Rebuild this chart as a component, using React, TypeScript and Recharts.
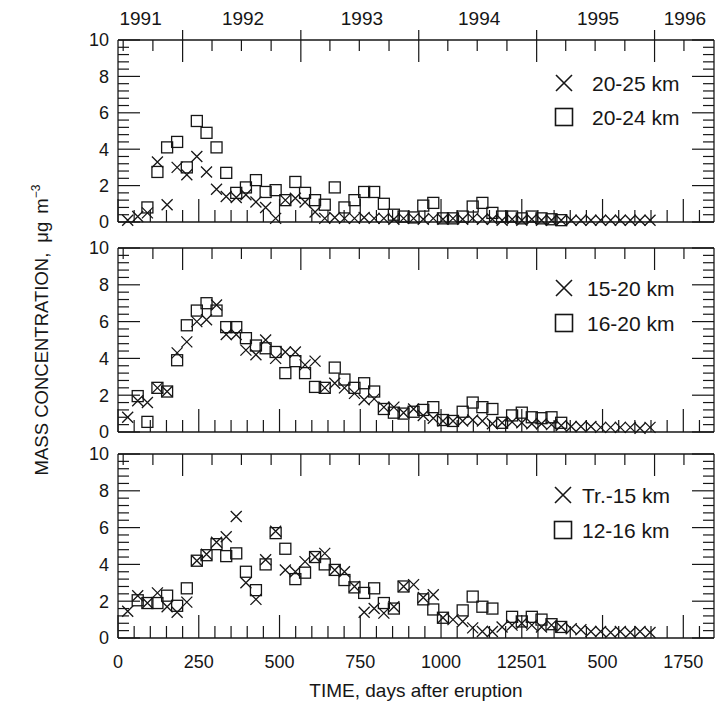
import React from 'react';
import { ScatterChart, Scatter, XAxis, YAxis, ReferenceLine, ReferenceDot } from 'recharts';

// monthly sampling days (days after the eruption)
const days = [
  30, 61, 91, 122, 152, 183, 213, 244, 274, 305,
  335, 366, 396, 427, 457, 488, 518, 549, 579, 610,
  640, 671, 701, 732, 762, 793, 823, 854, 884, 915,
  945, 976, 1006, 1037, 1067, 1098, 1128, 1159, 1189, 1220,
  1250, 1281, 1311, 1342, 1372, 1403, 1433, 1464, 1494, 1525,
  1555, 1586, 1616, 1647,
];

// upper panel
const cross20to25 = [
  0.1, 0.3, 0.5, 3.3, 0.95, 3.0, 2.6, 3.6, 2.75, 1.8,
  1.4, 1.35, 1.5, 1.1, 0.8, 0.2, 1.2, 1.3, 1.1, 0.55,
  0.2, 0.25, 0.2, 0.2, 0.25, 0.2, 0.2, 0.15, 0.2, 0.2,
  0.15, 0.2, 0.15, 0.2, 0.15, 0.2, 0.15, 0.15, 0.1, 0.15,
  0.1, 0.15, 0.1, 0.1, 0.1, 0.1, 0.1, 0.1, 0.1, 0.1,
  0.1, 0.1, 0.1, 0.1,
];
const square20to24 = [
  null, null, 0.8, 2.75, 4.1, 4.4, 3.0, 5.55, 4.9, 4.1,
  2.7, 1.6, 1.9, 2.3, 1.65, 1.75, 1.2, 2.2, 1.6, 1.2,
  0.95, 1.9, 0.8, 1.2, 1.65, 1.65, 1.0, 0.4, 0.3, 0.25,
  0.9, 1.05, 0.2, 0.2, 0.3, 0.85, 1.05, 0.5, 0.3, 0.3,
  0.2, 0.3, 0.2, 0.15, 0.1, null, null, null, null, null,
  null, null, null, null,
];

// middle panel
const cross15to20 = [
  0.8, 1.7, 1.6, 2.4, 2.2, 4.3, 4.9, 6.0, 6.1, 6.9,
  5.3, 5.3, 4.45, 4.2, 5.0, 4.0, 4.35, 4.35, 3.65, 3.85,
  2.4, 2.65, 2.4, 2.1, 1.75, 1.8, 1.35, 1.35, 1.05, 1.25,
  0.9, 0.75, 0.6, 0.6, 0.6, 0.65, 0.6, 0.45, 0.5, 0.55,
  0.5, 0.45, 0.45, 0.4, 0.35, 0.3, 0.3, 0.3, 0.25, 0.25,
  0.25, 0.25, 0.2, 0.25,
];
const square16to20 = [
  null, 1.95, 0.55, 2.4, 2.2, 3.9, 5.8, 6.6, 7.0, 6.6,
  5.7, 5.7, 5.1, 4.7, 4.55, 4.35, 3.2, 3.85, 3.2, 2.45,
  2.4, 3.5, 2.85, 2.4, 2.65, 2.2, 1.25, 1.05, 1.0, 1.1,
  1.2, 1.35, 0.65, 0.6, 1.1, 1.6, 1.35, 1.25, 0.5, 0.9,
  1.05, 0.8, 0.75, 0.8, 0.5, null, null, null, null, null,
  null, null, null, null,
];

// lower panel
const crossTrTo15 = [
  1.45, 2.3, 1.9, 2.45, 1.7, 1.4, 1.95, 4.2, 4.55, 5.2,
  5.5, 6.6, 3.0, 2.1, 4.25, 5.8, 3.7, 3.6, 4.15, 4.4,
  4.6, 3.7, 3.6, 2.8, 1.4, 1.6, 1.35, 1.7, 2.8, 2.9,
  2.2, 2.35, 1.1, 1.0, 0.9, 0.55, 0.35, 0.35, 0.6, 0.7,
  0.8, 0.7, 0.6, 0.7, 0.6, 0.5, 0.45, 0.35, 0.35, 0.3,
  0.35, 0.3, 0.35, 0.3,
];
const square12to16 = [
  null, 2.05, 1.9, 1.9, 2.3, 1.75, 2.7, 4.2, 4.5, 5.1,
  4.45, 4.6, 3.6, 2.6, 4.0, 5.7, 4.85, 3.2, 3.55, 4.4,
  4.0, 3.7, 3.15, 2.75, 2.45, 2.7, 1.9, 1.6, 2.8, null,
  2.1, 1.55, 1.1, null, 1.5, 2.25, 1.7, 1.6, null, 1.15,
  0.9, 1.15, 1.0, 0.75, 0.6, null, null, null, null, null,
  null, null, null, null,
];

// axes
const dayTicks = [
  0, 50, 100, 150, 200, 250, 300, 350, 400, 450, 500, 550, 600, 650, 700, 750, 800, 850, 900,
  950, 1000, 1050, 1100, 1150, 1200, 1250, 1300, 1350, 1400, 1450, 1500, 1550, 1600, 1650, 1700, 1750, 1800,
];
const dayMajor = [0, 250, 500, 750, 1000, 1250, 1500, 1750];
const dayLabels = ['0', '250', '500', '750', '1000', '12501', '500', '1750'];
// first day of each quarter, counted from 15 June 1991
const quarterDays = [16, 108, 200, 291, 382, 474, 566, 656, 747, 839, 931, 1021, 1112, 1204, 1296, 1386, 1477, 1569, 1661, 1752];
const yearStartDays = [200, 566, 931, 1296, 1661];
const yearLabelDays = [70, 387, 755, 1118, 1486, 1755];
const yearLabels = ['1991', '1992', '1993', '1994', '1995', '1996'];
const yTicks = [0, 0.4, 0.8, 1.2, 1.6, 2, 2.4, 2.8, 3.2, 3.6, 4, 4.4, 4.8, 5.2, 5.6, 6, 6.4, 6.8, 7.2, 7.6, 8, 8.4, 8.8, 9.2, 9.6, 10];
const yMajor = [0, 2, 4, 6, 8, 10];

const INK = '#161616';
const FONT = '"Liberation Sans", Arial, Helvetica, sans-serif';
const X_MAX = 1845;
const Y_MAX = 10;
const THIN = 0.01; // frame axes take no room but still get drawn

const toPoints = (vals: (number | null)[]) =>
  days.map((d, i) => ({ day: d, v: vals[i] })).filter(p => p.v !== null);

const frameStyle = { stroke: INK, strokeWidth: 1.3 };
const labelStyle = { fill: INK, fontSize: 18, fontFamily: FONT };

const CrossMark = (props: any) => {
  const { cx, cy } = props;
  const r = 5.5;
  return (
    <path
      d={`M${cx - r},${cy - r}L${cx + r},${cy + r}M${cx - r},${cy + r}L${cx + r},${cy - r}`}
      stroke={INK}
      strokeWidth={1.3}
      fill="none"
    />
  );
};

const SquareMark = (props: any) => {
  const { cx, cy } = props;
  return <rect x={cx - 5.5} y={cy - 5.5} width={11} height={11} fill="none" stroke={INK} strokeWidth={1.3} />;
};

// a tick mark: starts where the segment starts and runs `len` px along it (and `back` px outward)
const tickShape = (len: number, back = 0) => (p: any) => {
  const { x1, y1, x2, y2 } = p;
  const n = Math.hypot(x2 - x1, y2 - y1) || 1;
  const ux = (x2 - x1) / n;
  const uy = (y2 - y1) / n;
  return (
    <line
      x1={x1 - ux * back}
      y1={y1 - uy * back}
      x2={x1 + ux * len}
      y2={y1 + uy * len}
      stroke={INK}
      strokeWidth={1.2}
    />
  );
};

interface PanelProps {
  top: number;
  height: number;
  plotTop: number;
  plotBottom: number;
  crosses: (number | null)[];
  squares: (number | null)[];
  years?: boolean;
  dayAxisLabels?: boolean;
}

const Panel: React.FC<PanelProps> = ({ top, height, plotTop, plotBottom, crosses, squares, years, dayAxisLabels }) => {
  const margin = { top: plotTop, bottom: height - plotBottom, left: 118, right: 4 };
  const xBase = { type: 'number' as const, dataKey: 'day', domain: [0, X_MAX], height: THIN, tick: false as const };
  const yBase = { type: 'number' as const, dataKey: 'v', domain: [0, Y_MAX], width: THIN, tick: false as const };
  const ref = { xAxisId: 'b', yAxisId: 'l', ifOverflow: 'visible' as const };
  return (
    <div style={{ position: 'absolute', left: 0, top, width: 718, height }}>
      <ScatterChart width={718} height={height} margin={margin}>
        <XAxis {...xBase} xAxisId="b" axisLine={frameStyle} />
        <XAxis {...xBase} xAxisId="t" orientation="top" axisLine={frameStyle} />
        <YAxis {...yBase} yAxisId="l" axisLine={frameStyle} />
        <YAxis {...yBase} yAxisId="r" orientation="right" axisLine={frameStyle} />

        {/* bottom edge: every 50 days, longer every 250 */}
        {dayTicks.map(d => (
          <ReferenceLine
            key={`b${d}`}
            {...ref}
            segment={[{ x: d, y: 0 }, { x: d, y: Y_MAX }]}
            shape={tickShape(d % 250 === 0 ? 23 : 12)}
          />
        ))}
        {/* top edge: quarters, longer at each new year */}
        {quarterDays.map(d => {
          const major = yearStartDays.includes(d);
          return (
            <ReferenceLine
              key={`t${d}`}
              {...ref}
              segment={[{ x: d, y: Y_MAX }, { x: d, y: 0 }]}
              shape={tickShape(major ? 22 : 11, major && years ? 10 : 0)}
            />
          );
        })}
        {/* left and right edges */}
        {yTicks.map(v => {
          const len = yMajor.includes(v) ? 22 : 11;
          return (
            <React.Fragment key={`y${v}`}>
              <ReferenceLine {...ref} segment={[{ x: 0, y: v }, { x: X_MAX, y: v }]} shape={tickShape(len)} />
              <ReferenceLine {...ref} segment={[{ x: X_MAX, y: v }, { x: 0, y: v }]} shape={tickShape(len)} />
            </React.Fragment>
          );
        })}

        {yMajor.map(v => (
          <ReferenceDot
            key={`yl${v}`}
            {...ref}
            x={0}
            y={v}
            r={0}
            fill="none"
            stroke="none"
            label={{ value: String(v), position: 'left', offset: 9, ...labelStyle }}
          />
        ))}
        {dayAxisLabels &&
          dayMajor.map((d, i) => (
            <ReferenceDot
              key={`xl${d}`}
              {...ref}
              x={d}
              y={0}
              r={0}
              fill="none"
              stroke="none"
              label={{ value: dayLabels[i], position: 'bottom', offset: 17, ...labelStyle }}
            />
          ))}
        {years &&
          yearLabelDays.map((d, i) => (
            <ReferenceDot
              key={`yr${d}`}
              {...ref}
              x={d}
              y={Y_MAX}
              r={0}
              fill="none"
              stroke="none"
              label={{ value: yearLabels[i], position: 'top', offset: 15, ...labelStyle, fontSize: 19 }}
            />
          ))}

        <Scatter xAxisId="b" yAxisId="l" data={toPoints(squares)} shape={<SquareMark />} isAnimationActive={false} />
        <Scatter xAxisId="b" yAxisId="l" data={toPoints(crosses)} shape={<CrossMark />} isAnimationActive={false} />
      </ScatterChart>
    </div>
  );
};

const LegendPair = ({ x, y, gap, textX, cross, square }: { x: number; y: number; gap: number; textX: number; cross: string; square: string }) => (
  <g>
    <path d={`M${x - 8},${y - 8}L${x + 8},${y + 8}M${x - 8},${y + 8}L${x + 8},${y - 8}`} stroke={INK} strokeWidth={1.6} fill="none" />
    <text x={textX} y={y + 8} fontSize={21} fontFamily={FONT} fill={INK}>{cross}</text>
    <rect x={x - 8.5} y={y + gap - 8.5} width={17} height={17} fill="none" stroke={INK} strokeWidth={1.6} />
    <text x={textX} y={y + gap + 8} fontSize={21} fontFamily={FONT} fill={INK}>{square}</text>
  </g>
);

export default function App() {
  return (
    <div style={{ position: 'absolute', left: 0, top: 0, width: 718, height: 711, background: '#fff' }}>
      <Panel top={0} height={240} plotTop={40} plotBottom={222} crosses={cross20to25} squares={square20to24} years />
      <Panel top={226} height={218} plotTop={22} plotBottom={206} crosses={cross15to20} squares={square16to20} />
      <Panel top={436} height={275} plotTop={18} plotBottom={202} crosses={crossTrTo15} squares={square12to16} dayAxisLabels />
      <svg width={718} height={711} style={{ position: 'absolute', left: 0, top: 0, pointerEvents: 'none' }}>
        <LegendPair x={564} y={83} gap={34} textX={592} cross="20-25 km" square="20-24 km" />
        <LegendPair x={564} y={288} gap={35} textX={587} cross="15-20 km" square="16-20 km" />
        <LegendPair x={563} y={495} gap={35} textX={582} cross="Tr.-15 km" square="12-16 km" />
        <text x={416} y={697} textAnchor="middle" fontSize={19} fontFamily={FONT} fill={INK}>
          TIME, days after eruption
        </text>
        <text
          transform="translate(48,330) rotate(-90)"
          textAnchor="middle"
          fontSize={18.5}
          fontFamily={FONT}
          fill={INK}
        >
          MASS CONCENTRATION,
          <tspan dx={10}>μg</tspan>
          <tspan dx={8}>m</tspan>
          <tspan dy={-8} fontSize={12}>−3</tspan>
        </text>
      </svg>
    </div>
  );
}
